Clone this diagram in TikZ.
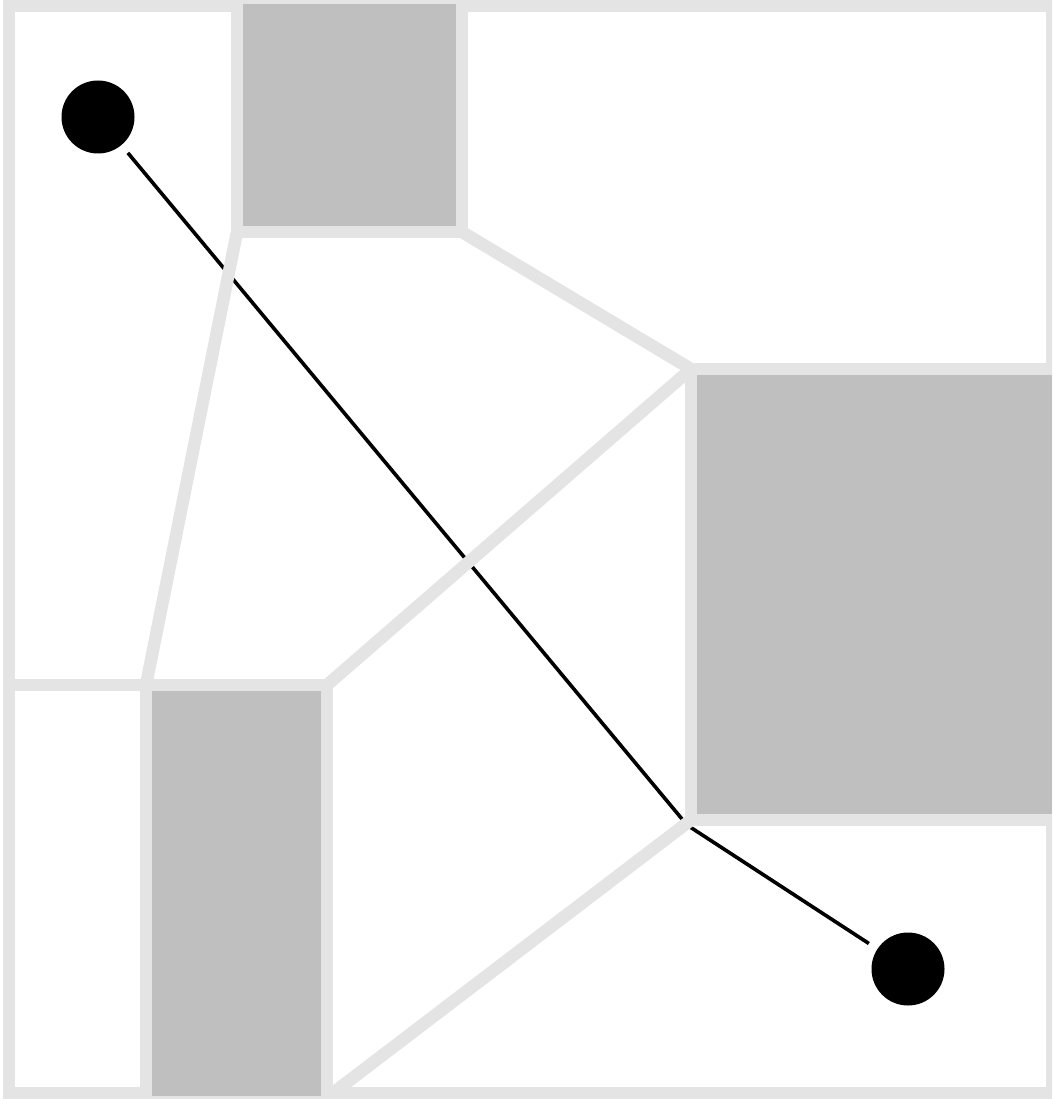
\documentclass[tikz,border=0pt]{standalone}
\begin{document}
\begin{tikzpicture}[x=1pt,y=-1pt,
  cell/.style={draw=lgray,line width=12.5pt,line join=miter},
  obst/.style={fill=dgray},
  dot/.style={circle,fill=black,inner sep=0pt,minimum size=73pt},
  route/.style={draw=black,line width=3.6pt}]
\definecolor{lgray}{HTML}{E4E4E4}
\definecolor{dgray}{HTML}{BFBFBF}
\useasboundingbox (0,0) rectangle (1052,1099);
\clip (0,0) rectangle (1052,1099);
% vertices
\coordinate (tl) at (9,6);
\coordinate (br) at (1052,1093);
\coordinate (a) at (237,232);
\coordinate (b) at (462,232);
\coordinate (c) at (691,369);
\coordinate (d) at (691,820);
\coordinate (e) at (146,685);
\coordinate (f) at (327,685);
\coordinate (g) at (333,1093);
\coordinate (v) at (687,825);
% start and goal
\node[dot] (start) at (98,117) {};
\node[dot] (goal) at (908,969) {};
\draw[route,shorten <=10pt] (start) -- (v);
\draw[route,shorten >=10pt] (v) -- (goal);
% cell boundaries
\draw[cell] (tl) rectangle (br);
\draw[cell] (237,6) -- (a) -- (b) -- (462,6);
\draw[cell] (a) -- (e);
\draw[cell] (b) -- (c);
\draw[cell] (1052,369) -- (c) -- (d) -- (1052,820);
\draw[cell] (c) -- (f);
\draw[cell] (9,685) -- (e) -- (f);
\draw[cell] (e) -- (146,1093);
\draw[cell] (f) -- (327,1093);
\draw[cell] (d) -- (g);
% obstacles
\path[obst] (243,4) rectangle (456,226);
\path[obst] (697,375) rectangle (1052,814);
\path[obst] (152,691) rectangle (321,1096);
\end{tikzpicture}
\end{document}
